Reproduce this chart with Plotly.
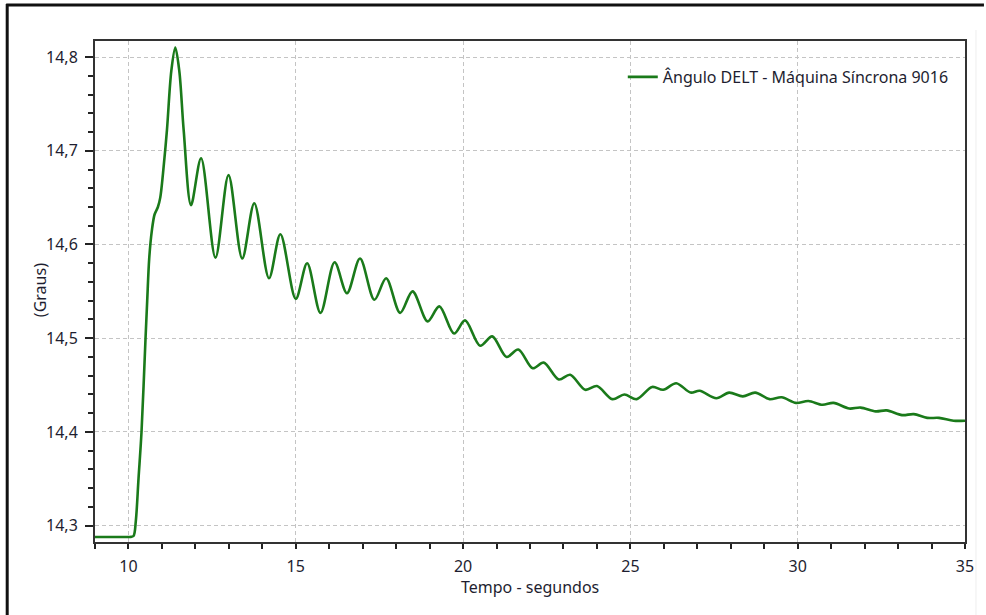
import plotly.graph_objects as go

# Time (s) and angle (degrees)
tempo = [9.0, 9.8, 10.05, 10.15, 10.22, 10.30, 10.39, 10.51, 10.56, 10.62, 10.70, 10.78, 10.88, 10.95,
         11.03, 11.15, 11.28, 11.40, 11.52, 11.65, 11.87,
         12.17, 12.60, 12.99, 13.40, 13.76, 14.20, 14.54, 15.00, 15.34, 15.74, 16.16, 16.53,
         16.92, 17.35, 17.70, 18.12, 18.49, 18.94, 19.29, 19.73, 20.06, 20.51, 20.87, 21.30,
         21.65, 22.08, 22.41, 22.86, 23.20, 23.65, 24.00, 24.46, 24.82, 25.19, 25.65, 25.98,
         26.37, 26.80, 27.07, 27.57, 27.95, 28.36, 28.73, 29.16, 29.52, 29.95, 30.32, 30.74,
         31.07, 31.54, 31.88, 32.33, 32.66, 33.12, 33.47, 33.87, 34.22, 34.66, 35.0]
angulo = [14.288, 14.288, 14.288, 14.289, 14.305, 14.35, 14.40, 14.50, 14.54, 14.585, 14.615, 14.632, 14.640, 14.650,
          14.675, 14.722, 14.785, 14.810, 14.785, 14.722, 14.642,
          14.692, 14.586, 14.674, 14.585, 14.644, 14.564, 14.611, 14.542, 14.580, 14.527, 14.581, 14.548,
          14.585, 14.541, 14.564, 14.527, 14.550, 14.518, 14.534, 14.505, 14.519, 14.492, 14.502, 14.480,
          14.488, 14.468, 14.474, 14.456, 14.461, 14.445, 14.449, 14.435, 14.440, 14.435, 14.448, 14.445,
          14.452, 14.442, 14.444, 14.436, 14.442, 14.438, 14.442, 14.435, 14.437, 14.431, 14.433, 14.429,
          14.431, 14.425, 14.426, 14.422, 14.423, 14.418, 14.419, 14.415, 14.415, 14.412, 14.412]

x_ticks = [10, 15, 20, 25, 30, 35]
y_ticks = [14.3, 14.4, 14.5, 14.6, 14.7, 14.8]
y_tick_labels = ["14,3", "14,4", "14,5", "14,6", "14,7", "14,8"]
serie_nome = "Ângulo DELT - Máquina Síncrona 9016"

FONT = "Noto Sans"
FS = 16
TXT = "#1e1e30"
W, H = 986, 615
ML, MR, MT, MB = 95, 19, 41, 73
PW, PH = W - ML - MR, H - MT - MB

def px_x(px):
    return (px - ML) / PW

def px_y(py):
    return (H - MB - py) / PH

fig = go.Figure()
fig.add_trace(go.Scatter(
    x=tempo, y=angulo, mode="lines", name=serie_nome,
    line=dict(color="#1a7a1a", width=2.6, shape="spline", smoothing=0.9),
))

axis_common = dict(
    showline=True, mirror=True, linecolor="#333333", linewidth=2,
    showgrid=True, gridcolor="#c4c4c4", gridwidth=1, griddash="4px,3px",
    zeroline=False, ticks="outside", tickcolor="#222222", tickwidth=2,
    tickfont=dict(family=FONT, size=FS, color=TXT),
)

fig.update_layout(
    width=W, height=H,
    margin=dict(l=ML, r=MR, t=MT, b=MB),
    paper_bgcolor="white", plot_bgcolor="white",
    font=dict(family=FONT, size=FS, color=TXT),
    showlegend=True,
    legend=dict(x=px_x(624), y=px_y(60), xanchor="left", yanchor="top",
                bgcolor="rgba(0,0,0,0)", borderwidth=0,
                font=dict(family=FONT, size=FS, color=TXT), itemwidth=30),
    xaxis=dict(range=[9, 35], tickvals=x_ticks, ticklen=5,
               minor=dict(dtick=1, tick0=9, ticks="outside", ticklen=5, tickwidth=2,
                          tickcolor="#222222", showgrid=False),
               ticklabelstandoff=4, **axis_common),
    yaxis=dict(range=[14.2826, 14.8171], tickvals=y_ticks, ticktext=y_tick_labels, ticklen=8,
               minor=dict(dtick=0.02, tick0=14.3, ticks="outside", ticklen=5, tickwidth=2,
                          tickcolor="#222222", showgrid=False),
               ticklabelstandoff=4, **axis_common),
    annotations=[
        dict(text="(Graus)", x=px_x(40), y=px_y(290), xref="paper", yref="paper",
             showarrow=False, textangle=-90, xanchor="center", yanchor="middle",
             font=dict(family=FONT, size=FS, color=TXT)),
        dict(text="Tempo - segundos", x=px_x(531), y=px_y(587), xref="paper", yref="paper",
             showarrow=False, xanchor="center", yanchor="middle",
             font=dict(family=FONT, size=FS, color=TXT)),
    ],
    shapes=[
        dict(type="line", xref="paper", yref="paper", x0=px_x(6), x1=px_x(986), y0=px_y(5), y1=px_y(5),
             line=dict(color="#111111", width=3)),
        dict(type="line", xref="paper", yref="paper", x0=px_x(7), x1=px_x(7), y0=px_y(4), y1=px_y(615),
             line=dict(color="#111111", width=3)),
        dict(type="line", xref="paper", yref="paper", x0=px_x(978), x1=px_x(978), y0=px_y(30), y1=px_y(615),
             line=dict(color="#eeeeee", width=1)),
    ],
)

fig.write_html("out.html", config={"displayModeBar": False},
               post_script="document.body.style.margin='0px';document.body.style.overflow='hidden';")
